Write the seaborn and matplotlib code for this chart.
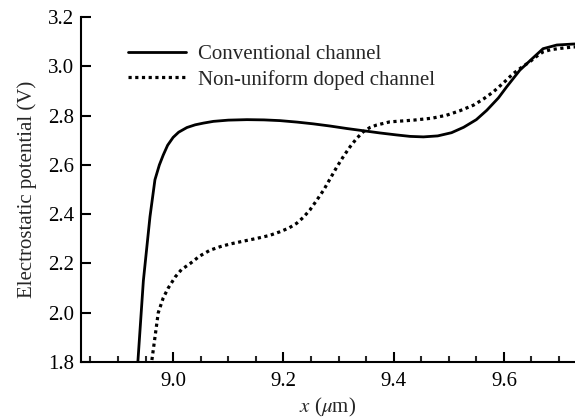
import numpy as np
import pandas as pd
import matplotlib
matplotlib.use("Agg")
import matplotlib.pyplot as plt
import seaborn as sns
from matplotlib.ticker import MultipleLocator

# values
conv_x = [8.930, 8.936, 8.946, 8.958, 8.967, 8.975, 8.982, 8.990, 9.000, 9.010,
          9.025, 9.040, 9.055, 9.073, 9.100, 9.134, 9.165, 9.194, 9.225, 9.254,
          9.285, 9.315, 9.345, 9.375, 9.405, 9.430, 9.454, 9.480, 9.505, 9.527,
          9.550, 9.569, 9.590, 9.605, 9.629, 9.653, 9.671, 9.696, 9.726, 9.740]
conv_y = [1.60, 1.80, 2.13, 2.39, 2.54, 2.600, 2.640, 2.680, 2.712, 2.733,
          2.752, 2.763, 2.770, 2.777, 2.782, 2.784, 2.783, 2.780, 2.774, 2.767,
          2.758, 2.748, 2.739, 2.730, 2.722, 2.716, 2.714, 2.718, 2.731, 2.753,
          2.784, 2.822, 2.872, 2.917, 2.985, 3.035, 3.072, 3.087, 3.091, 3.092]

nonu_x = [8.955, 8.961, 8.967, 8.973, 8.982, 8.991, 9.004, 9.015, 9.031, 9.048,
          9.067, 9.085, 9.103, 9.128, 9.152, 9.175, 9.194, 9.210, 9.224, 9.236,
          9.248, 9.260, 9.273, 9.285, 9.297, 9.309, 9.321, 9.333, 9.345, 9.357,
          9.369, 9.393, 9.436, 9.470, 9.496, 9.520, 9.545, 9.563, 9.581, 9.600,
          9.617, 9.632, 9.647, 9.660, 9.671, 9.685, 9.701, 9.726, 9.740]
nonu_y = [1.70, 1.80, 1.90, 2.00, 2.06, 2.10, 2.146, 2.175, 2.200, 2.230,
          2.254, 2.268, 2.279, 2.291, 2.302, 2.314, 2.329, 2.344, 2.363, 2.387,
          2.417, 2.455, 2.498, 2.545, 2.592, 2.635, 2.674, 2.708, 2.735, 2.752,
          2.762, 2.775, 2.782, 2.790, 2.802, 2.820, 2.843, 2.868, 2.897, 2.935,
          2.971, 2.996, 3.019, 3.042, 3.059, 3.068, 3.073, 3.079, 3.080]

labels = ["Conventional channel", "Non-uniform doped channel"]


def main():
    sns.set_style("ticks")
    plt.rcParams["font.family"] = ["Liberation Serif", "DejaVu Serif"]
    plt.rcParams["mathtext.fontset"] = "stix"

    fig = plt.figure(figsize=(5.75, 4.19), dpi=100)
    ax = fig.add_axes([0.141, 0.136, 0.859, 0.823])

    df_conv = pd.DataFrame({"x": conv_x, "y": conv_y})
    df_nonu = pd.DataFrame({"x": nonu_x, "y": nonu_y})
    sns.lineplot(data=df_conv, x="x", y="y", ax=ax, color="black", lw=2.0,
                 label=labels[0])
    sns.lineplot(data=df_nonu, x="x", y="y", ax=ax, color="black", lw=2.3,
                 linestyle=(0, (1.0, 1.1)), label=labels[1])

    ax.set_xlim(8.833, 9.729)
    ax.set_ylim(1.8, 3.2)
    ax.xaxis.set_major_locator(MultipleLocator(0.2))
    ax.xaxis.set_minor_locator(MultipleLocator(0.05))
    ax.yaxis.set_major_locator(MultipleLocator(0.2))
    ax.xaxis.set_major_formatter(lambda v, _: "{:.1f}".format(v))
    ax.yaxis.set_major_formatter(lambda v, _: "{:.1f}".format(v))
    ax.tick_params(which="major", direction="in", length=7.5, width=1.5,
                   labelsize=15, colors="black", pad=5)
    ax.tick_params(axis="x", which="major", pad=7)
    ax.tick_params(which="minor", direction="in", length=4.5, width=1.5)
    ax.tick_params(axis="y", which="minor", left=False)

    for side in ["top", "right"]:
        ax.spines[side].set_visible(False)
    for side in ["left", "bottom"]:
        ax.spines[side].set_linewidth(1.5)
        ax.spines[side].set_color("black")

    ax.set_xlabel(r"$x$ ($\mu$m)", fontsize=15, labelpad=4)
    ax.set_ylabel("Electrostatic potential (V)", fontsize=15, labelpad=8)

    ax.legend(loc="upper left", bbox_to_anchor=(0.095, 0.921), frameon=False,
              fontsize=15, handlelength=2.8, handletextpad=0.55,
              labelspacing=0.28, borderaxespad=0, borderpad=0)

    fig.savefig("out.png", dpi=100)


if __name__ == "__main__":
    main()
